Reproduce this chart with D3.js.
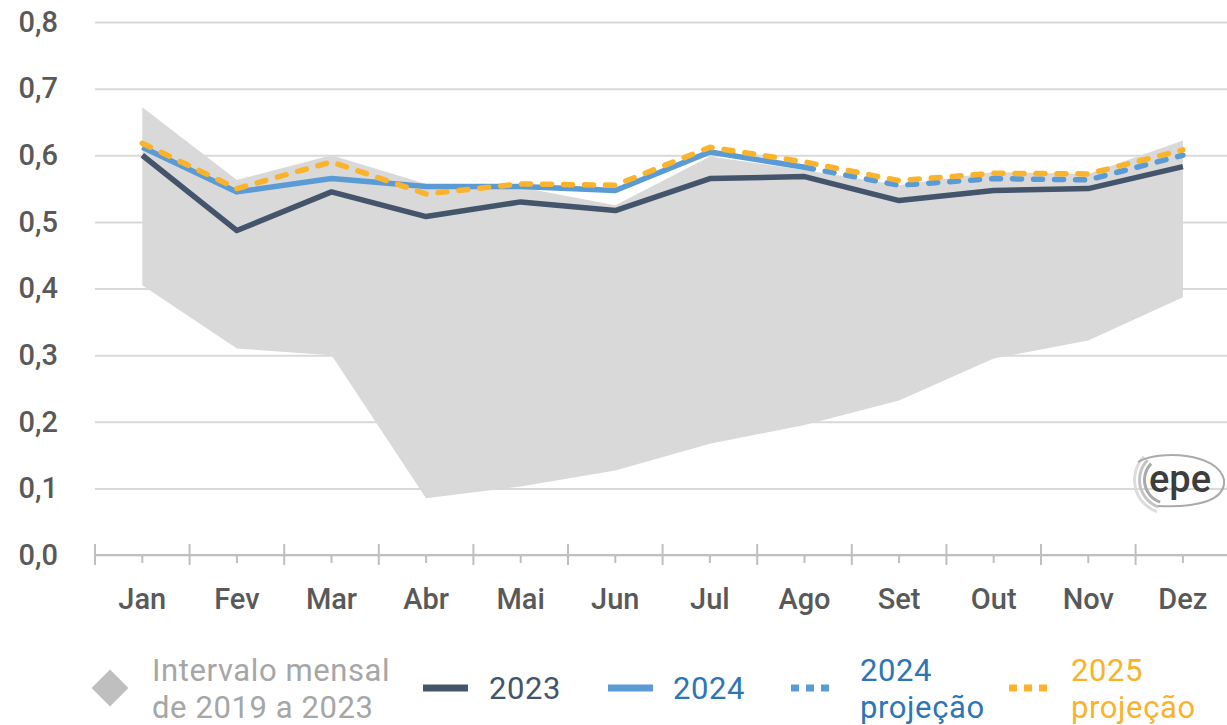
<!DOCTYPE html>
<head>
	<meta charset="utf-8">
	<style>
		body {margin: 0; background: #fff;}
		svg text {font-family: Roboto, "DejaVu Sans", sans-serif;}
	</style>
	<script src="https://d3js.org/d3.v7.min.js" charset="utf-8"></script>
</head>
<body>
	<script>
		// chart data
		var months = ["Jan", "Fev", "Mar", "Abr", "Mai", "Jun", "Jul", "Ago", "Set", "Out", "Nov", "Dez"];
		var rangeMax = [0.672, 0.563, 0.600, 0.557, 0.552, 0.525, 0.598, 0.578, 0.555, 0.575, 0.572, 0.622];
		var rangeMin = [0.405, 0.310, 0.300, 0.085, 0.103, 0.127, 0.167, 0.195, 0.232, 0.295, 0.322, 0.387];
		var v2023 = [0.600, 0.487, 0.545, 0.508, 0.530, 0.517, 0.565, 0.568, 0.532, 0.547, 0.550, 0.583];
		var v2024 = [0.612, 0.545, 0.565, 0.553, 0.553, 0.547, 0.605, 0.582, null, null, null, null];
		var v2024proj = [null, null, null, null, null, null, null, 0.582, 0.555, 0.565, 0.563, 0.600];
		var v2025proj = [0.618, 0.550, 0.590, 0.542, 0.557, 0.555, 0.612, 0.590, 0.562, 0.573, 0.572, 0.608];
		var yTicks = [0, 0.1, 0.2, 0.3, 0.4, 0.5, 0.6, 0.7, 0.8];

		var width = 1227, height = 725;
		var plot = {left: 95, right: 1227, top: 22, bottom: 555};

		var svg = d3.select("body").append("svg")
			.attr("width", width)
			.attr("height", height);

		var x = d3.scaleBand().domain(months).range([plot.left, plot.left + 12 * 94.6]).padding(0);
		var y = d3.scaleLinear().domain([0, 0.8]).range([plot.bottom, plot.top]);
		var cx = function(m) {return x(m) + x.bandwidth() / 2;};

		// y axis with gridlines
		var yAxis = svg.append("g")
			.attr("transform", "translate(" + plot.left + ",0)")
			.call(d3.axisLeft(y).tickValues(yTicks)
				.tickSize(-(plot.right - plot.left))
				.tickPadding(37)
				.tickFormat(function(d){return d.toFixed(1).replace(".", ",");}));
		yAxis.select(".domain").remove();
		yAxis.selectAll("line").attr("stroke", "#d9d9d9").attr("stroke-width", 2);
		yAxis.selectAll("text").attr("fill", "#595959").attr("font-size", "29px").attr("font-weight", 500);

		// interval area
		var rows = months.map(function(m, i){return {m: m, lo: rangeMin[i], hi: rangeMax[i]};});
		svg.append("path")
			.datum(rows)
			.attr("fill", "#d9d9d9")
			.attr("d", d3.area()
				.x(function(d){return cx(d.m);})
				.y0(function(d){return y(d.lo);})
				.y1(function(d){return y(d.hi);}));

		// x axis
		var xAxis = svg.append("g")
			.attr("transform", "translate(0," + plot.bottom + ")")
			.call(d3.axisBottom(x).tickSize(8).tickPadding(25));
		xAxis.select(".domain").attr("d", "M" + plot.left + ",0H" + plot.right).attr("stroke", "#bfbfbf").attr("stroke-width", 2);
		xAxis.selectAll(".tick line").attr("stroke", "#bfbfbf").attr("stroke-width", 2);
		xAxis.selectAll("text").attr("fill", "#595959").attr("font-size", "29px").attr("font-weight", 500);
		xAxis.selectAll(".major")
			.data(months.concat(["end"]))
			.enter().append("line")
			.attr("class", "major")
			.attr("x1", function(d, i){return plot.left + i * x.bandwidth();})
			.attr("x2", function(d, i){return plot.left + i * x.bandwidth();})
			.attr("y1", -11).attr("y2", 10)
			.attr("stroke", "#bfbfbf").attr("stroke-width", 2);

		// lines
		function drawLine(vals, color, dash) {
			var pts = months.map(function(m, i){return {m: m, v: vals[i]};});
			var p = svg.append("path")
				.datum(pts)
				.attr("fill", "none")
				.attr("stroke", color)
				.attr("stroke-width", 5.5)
				.attr("stroke-linejoin", "round")
				.attr("d", d3.line()
					.defined(function(d){return d.v != null;})
					.x(function(d){return cx(d.m);})
					.y(function(d){return y(d.v);}));
			if (dash) p.attr("stroke-dasharray", "9,12").attr("stroke-linecap", "round");
			else p.attr("stroke-linecap", "butt");
		}
		drawLine(v2023, "#44546a", false);
		drawLine(v2024, "#5b9bd5", false);
		drawLine(v2024proj, "#5b9bd5", true);
		drawLine(v2025proj, "#fbb32b", true);

		// epe logo
		var logo = svg.append("g").attr("transform", "translate(1178,480)");
		[22, 27, 32].forEach(function(r, i){
			logo.append("path")
				.attr("d", d3.arc()({innerRadius: r, outerRadius: r + 3, startAngle: -2.8, endAngle: -0.8}))
				.attr("transform", "translate(-10,0)")
				.attr("fill", ["#aaa", "#c4c4c4", "#dcdcdc"][i]);
		});
		logo.append("path")
			.attr("d", "M-40,-18 C-20,-30 40,-28 46,0 C48,20 20,28 -20,26")
			.attr("fill", "none").attr("stroke", "#aaa").attr("stroke-width", 2);
		logo.append("text")
			.attr("x", 2).attr("y", 12)
			.attr("text-anchor", "middle")
			.attr("font-size", "38px").attr("font-weight", 500)
			.attr("fill", "#3d3d3d")
			.text("epe");

		// legend
		var lg = svg.append("g");
		lg.append("rect")
			.attr("x", 110 - 13).attr("y", 688 - 13)
			.attr("width", 26).attr("height", 26)
			.attr("transform", "rotate(45,110,688)")
			.attr("fill", "#bfbfbf");
		var legendText = function(xp, yp, str, color) {
			lg.append("text").attr("x", xp).attr("y", yp)
				.attr("font-size", "31px").attr("letter-spacing", "0.6px")
				.attr("fill", color).text(str);
		};
		legendText(152, 681, "Intervalo mensal", "#a6a6a6");
		legendText(152, 718, "de 2019 a 2023", "#a6a6a6");
		lg.append("line").attr("x1", 423).attr("x2", 468).attr("y1", 688).attr("y2", 688)
			.attr("stroke", "#44546a").attr("stroke-width", 7);
		legendText(489, 699, "2023", "#44546a");
		lg.append("line").attr("x1", 608).attr("x2", 653).attr("y1", 688).attr("y2", 688)
			.attr("stroke", "#5b9bd5").attr("stroke-width", 7);
		legendText(673, 699, "2024", "#2e75b6");
		lg.append("line").attr("x1", 791).attr("x2", 832).attr("y1", 688).attr("y2", 688)
			.attr("stroke", "#5b9bd5").attr("stroke-width", 7).attr("stroke-dasharray", "8,7");
		legendText(860, 681, "2024", "#2e75b6");
		legendText(860, 718, "projeção", "#2e75b6");
		lg.append("line").attr("x1", 1009).attr("x2", 1050).attr("y1", 688).attr("y2", 688)
			.attr("stroke", "#fbb32b").attr("stroke-width", 7).attr("stroke-dasharray", "8,7");
		legendText(1071, 681, "2025", "#f9b32a");
		legendText(1071, 718, "projeção", "#f9b32a");
	</script>
</body>
</html>
